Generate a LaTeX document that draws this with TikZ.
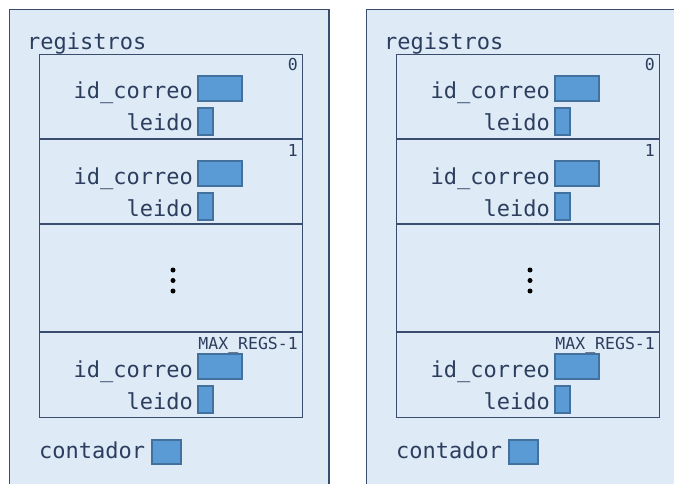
\documentclass[tikz,border=0pt]{standalone}
\usepackage{fontspec}
\setmonofont{DejaVu Sans Mono}
\definecolor{panelfill}{HTML}{DEEAF6}
\definecolor{framecol}{HTML}{3A4D6E}
\definecolor{txtcol}{HTML}{2C3D5E}
\definecolor{boxfill}{HTML}{5B9BD5}
\definecolor{boxborder}{HTML}{41719C}
\tikzset{
  panel/.style={draw=framecol, fill=panelfill, line width=1.2pt},
  regframe/.style={draw=framecol, line width=1.2pt, rectangle, inner sep=0pt, anchor=north west},
  divline/.style={draw=framecol, line width=1.2pt},
  field/.style={draw=boxborder, fill=boxfill, line width=2pt, rectangle, inner sep=0pt, anchor=north west},
  lbl/.style={font=\ttfamily\fontsize{22}{26}\selectfont, text=txtcol, inner sep=0pt},
  idx/.style={font=\ttfamily\fontsize{16.5}{20}\selectfont, text=txtcol, inner sep=0pt, anchor=base east},
  dotmark/.style={fill=black, circle, inner sep=0pt, minimum size=5pt},
}
\newcommand\regrec[4]{%
  \node[field, minimum width=44pt, minimum height=25pt] (#1id) at (#2+197, #3+21) {};
  \node[field, minimum width=15pt, minimum height=27pt] (#1le) at (#2+197, #3+53) {};
  \node[lbl, anchor=base east] (#1idt) at (#2+193, #3+45) {id\_correo};
  \node[lbl, anchor=base east] (#1let) at (#2+193, #3+77) {leido};
  \node[idx] (#1n) at (#2+298, #3+17) {#4};
}
\newcommand\panelblock[2]{%
  \draw[panel] (#2+9.5, 9.5) rectangle (#2+329, 500);
  \node[lbl, anchor=base west] (#1reg) at (#2+27, 50) {registros};
  \node[regframe, minimum width=263pt, minimum height=363pt] (#1frame) at (#2+39, 54) {};
  \coordinate (#1a1) at (#2+39, 139); \coordinate (#1b1) at (#2+302, 139);
  \coordinate (#1a2) at (#2+39, 224); \coordinate (#1b2) at (#2+302, 224);
  \coordinate (#1a3) at (#2+39, 332); \coordinate (#1b3) at (#2+302, 332);
  \draw[divline] (#1a1) -- (#1b1);
  \draw[divline] (#1a2) -- (#1b2);
  \draw[divline] (#1a3) -- (#1b3);
  \regrec{#1r0}{#2}{54}{0}
  \regrec{#1r1}{#2}{139}{1}
  \regrec{#1rl}{#2}{332}{MAX\_REGS-1}
  \node[dotmark] (#1d1) at (#2+173, 270) {};
  \node[dotmark] (#1d2) at (#2+173, 280.5) {};
  \node[dotmark] (#1d3) at (#2+173, 291) {};
  \node[lbl, anchor=base west] (#1cont) at (#2+39, 458) {contador};
  \node[field, minimum width=29pt, minimum height=24pt] (#1cbox) at (#2+151, 439) {};
}
\begin{document}
\begin{tikzpicture}[x=1pt, y=-1pt]
  \clip (0,0) rectangle (674,484);
  \fill[white] (0,0) rectangle (674,484);
  \panelblock{L}{0}
  \panelblock{R}{357}
\end{tikzpicture}
\end{document}
